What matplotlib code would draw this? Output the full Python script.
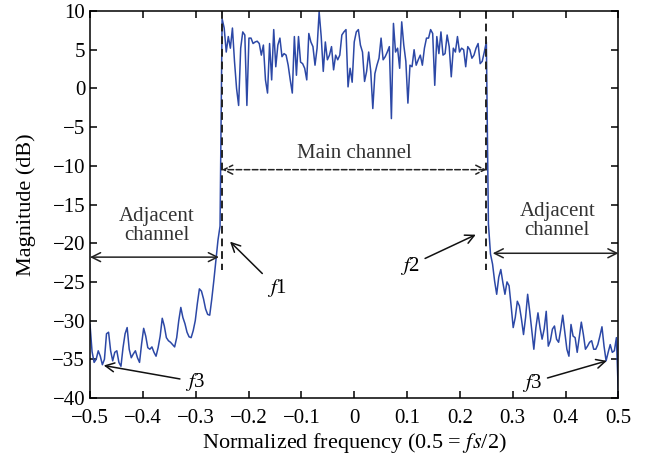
"""Spectrum of a band-limited signal: main channel and adjacent-channel leakage."""
import numpy as np
import matplotlib
matplotlib.use("Agg")
import matplotlib.pyplot as plt

# magnitude (dB), 1/256 frequency spacing
left_skirt_db = [
    -30.5, -34.0, -35.4, -35.0, -33.9, -34.6, -35.7, -35.0, -31.7, -31.5,
    -33.9, -35.2, -34.1, -33.9, -35.4, -35.9, -33.5, -31.7, -30.9, -33.7,
    -34.8, -34.3, -33.9, -34.8, -35.4, -33.0, -31.0, -32.0, -33.5, -33.7,
    -33.4, -34.1, -34.6, -33.5, -32.0, -29.7, -30.7, -32.2, -32.6, -32.8,
    -33.1, -33.4, -32.2, -30.0, -28.3, -29.6, -30.4, -31.5, -32.1, -32.2,
    -31.3, -30.0, -27.8, -25.9, -26.2, -27.2, -28.5, -29.2, -29.3, -27.2,
    -24.8, -22.2, -19.6, -17.8,
]
main_band_db = [
    9.0, 7.8, 4.7, 6.7, 5.2, 7.8, 3.5, 0.0, -2.2, 5.2,
    7.3, 6.9, -2.2, 6.5, 6.5, 5.8, 6.0, 6.1, 5.8, 4.3,
    5.6, 1.1, -0.6, 5.8, 1.1, 7.6, 2.8, 5.6, 6.5, 4.1,
    4.5, 4.3, 3.0, 1.1, -0.6, 6.7, 1.7, 6.7, 3.4, 3.2,
    2.6, 1.1, 7.1, 6.0, 5.4, 3.0, 5.2, 9.9, 6.7, 2.2,
    6.0, 3.7, 4.3, 5.4, 2.4, 4.3, 3.7, 4.3, 6.9, 7.3,
    7.6, 0.2, 2.6, 0.8, 6.0, 7.3, 7.6, 5.6, 4.7, 0.9,
    2.2, 4.7, 2.2, -2.6, 1.9, 3.0, 3.9, 6.5, 3.7, 4.1,
    4.7, 5.4, -3.9, 8.4, 4.7, 5.2, 2.6, 8.6, 5.6, 3.5,
    -1.9, 3.0, 2.8, 5.0, 3.0, 3.7, 4.3, 3.0, 5.2, 6.5,
    6.5, 7.6, 7.1, 0.4, 6.7, 4.5, 7.3, 4.3, 4.5, 6.9,
    5.4, 1.5, 5.2, 4.7, 6.7, 4.7, 5.2, 5.0, 2.8, 5.4,
    5.0, 3.9, 4.3, 5.2, 5.8, 3.2, 3.5, 4.7, 6.0,
]
right_skirt_db = [
    -17.5, -21.4, -22.7, -24.9, -26.6, -24.4, -23.4, -25.1, -26.6, -25.0,
    -25.5, -28.1, -30.9, -29.6, -27.5, -28.1, -29.8, -31.8, -29.6, -26.6,
    -28.8, -31.3, -33.7, -30.9, -29.0, -30.9, -32.4, -31.1, -28.8, -33.3,
    -32.6, -31.1, -30.7, -32.4, -32.8, -31.2, -29.3, -31.5, -33.7, -34.6,
    -30.5, -32.0, -32.2, -34.1, -32.2, -30.2, -31.8, -33.7, -33.3, -32.8,
    -32.6, -33.7, -33.7, -33.1, -32.0, -30.8, -33.3, -35.2, -34.1, -33.1,
    -34.1, -33.9, -32.2, -40.0,
]

xticks = [-0.5, -0.4, -0.3, -0.2, -0.1, 0, 0.1, 0.2, 0.3, 0.4, 0.5]
xticklabels = ["\u22120.5", "\u22120.4", "\u22120.3", "\u22120.2", "\u22120.1",
               "0", "0.1", "0.2", "0.3", "0.4", "0.5"]
band_edges = [-0.25, 0.25]

mag_db = np.array(left_skirt_db + main_band_db + right_skirt_db)
freq = np.linspace(-0.5, 0.5, len(mag_db))

plt.rcParams["font.family"] = ["Liberation Serif", "DejaVu Serif"]
plt.rcParams["mathtext.fontset"] = "stix"
plt.rcParams["font.size"] = 15

fig = plt.figure(figsize=(6.46, 4.65), dpi=100)
ax = fig.add_axes([0.1393, 0.1441, 0.8181, 0.8322])

ax.plot(freq, mag_db, color="#2c48a6", lw=1.1, clip_on=True)

for xe in band_edges:
    ax.plot([xe, xe], [10, -23.5], color="#222222", ls=(0, (4, 2.5)), lw=1.4)

arrow = dict(arrowstyle="<->", color="#222222", lw=1.1, shrinkA=0, shrinkB=0,
             mutation_scale=16)
ax.annotate("", xy=(-0.25, -10.5), xytext=(0.25, -10.5),
            arrowprops=dict(arrow, ls="--"))
ax.text(0.0, -8.4, "Main channel", ha="center", va="center", color="#333333")

ax.annotate("", xy=(-0.5, -21.8), xytext=(-0.256, -21.8), arrowprops=arrow)
ax.text(-0.373, -17.8, "Adjacent\nchannel", ha="center", va="center",
        linespacing=1.0, color="#333333")
ax.annotate("", xy=(0.262, -21.3), xytext=(0.5, -21.3), arrowprops=arrow)
ax.text(0.384, -17.1, "Adjacent\nchannel", ha="center", va="center",
        linespacing=1.0, color="#333333")

pointer = dict(arrowstyle="->", color="#111111", lw=1.1, shrinkA=2, shrinkB=0,
               mutation_scale=16)
ax.annotate(r"$f$1", xy=(-0.235, -19.8), xytext=(-0.146, -25.8),
            ha="center", va="center", arrowprops=pointer)
ax.annotate(r"$f$2", xy=(0.23, -18.9), xytext=(0.105, -22.9),
            ha="center", va="center", arrowprops=pointer)
ax.annotate(r"$f$3", xy=(-0.474, -35.8), xytext=(-0.30, -37.9),
            ha="center", va="center", arrowprops=pointer)
ax.annotate(r"$f$3", xy=(0.478, -35.2), xytext=(0.336, -38.0),
            ha="center", va="center", arrowprops=pointer)

ax.set_xlim(-0.5, 0.5)
ax.set_ylim(-40, 10)
ax.set_xticks(xticks)
ax.set_xticklabels(xticklabels)
ax.set_yticks(np.arange(-40, 11, 5))
ax.tick_params(direction="in", top=True, right=True, length=5, width=1.1)
ax.tick_params(axis="x", pad=8)
for sp in ax.spines.values():
    sp.set_linewidth(1.1)
ax.set_xlabel(r"Normalized frequency (0.5 = $fs$/2)", fontsize=16, labelpad=2)
ax.set_ylabel("Magnitude (dB)", fontsize=16, labelpad=12)

fig.savefig("out.png", dpi=100)
